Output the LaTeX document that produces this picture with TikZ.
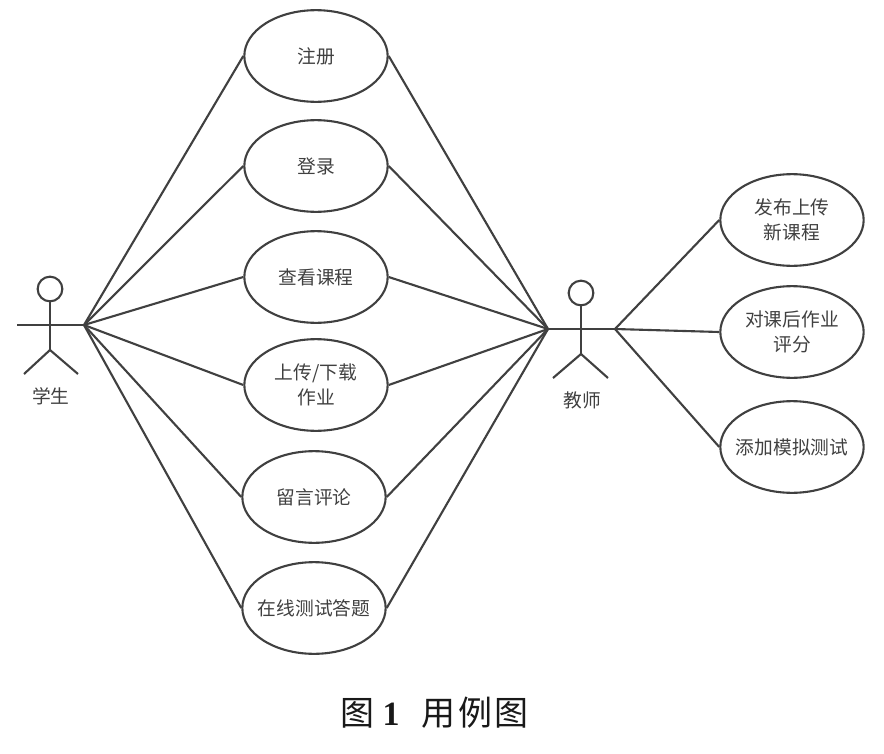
\documentclass[tikz,border=0pt]{standalone}
\usepackage{fontspec}
\setmainfont{Noto Sans CJK SC}
\newfontfamily\capdigit{Liberation Serif}
\usetikzlibrary{positioning, shapes.geometric}

\begin{document}
\begin{tikzpicture}[x=0.03cm, y=-0.03cm,
usecase/.style={draw=black!75, ellipse, line width=1.8pt, minimum width=4.3cm, minimum height=2.75cm, inner xsep=-14pt, inner ysep=0pt, align=center, font=\fontsize{16pt}{21pt}\selectfont, text=black!75},
link/.style={line width=1.8pt, black!75},
actorlabel/.style={font=\fontsize{16pt}{18pt}\selectfont, text=black!75}
]
\useasboundingbox (0,0) rectangle (884,754);

% use cases in the middle
\node[usecase] (reg) at (316,56) {注册};
\node[usecase] (login) at (316,166) {登录};
\node[usecase] (course) at (316,277) {查看课程};
\node[usecase] (work) at (316,385) {上传/下载\\作业};
\node[usecase] (comment) at (314,497) {留言评论};
\node[usecase] (test) at (314,608) {在线测试答题};

% teacher only
\node[usecase] (publish) at (792,220) {发布上传\\新课程};
\node[usecase] (grade) at (792,332) {对课后作业\\评分};
\node[usecase] (mock) at (792,447) {添加模拟测试};

% student
\node[draw, circle, link, minimum size=0.74cm, inner sep=0pt] (shead) at (50,289) {};
\coordinate (sleft) at (17,325);
\coordinate (sright) at (84,325);
\coordinate (ship) at (50,350);
\coordinate (sfootl) at (24,374);
\coordinate (sfootr) at (78,374);
\draw[link] (shead) -- (ship);
\draw[link] (sleft) -- (sright);
\draw[link] (sfootl) -- (ship) -- (sfootr);
\node[actorlabel] (student) at (51,396) {学生};

% teacher
\node[draw, circle, link, minimum size=0.74cm, inner sep=0pt] (thead) at (581,293) {};
\coordinate (tleft) at (548,329);
\coordinate (tright) at (615,329);
\coordinate (thip) at (581,354);
\coordinate (tfootl) at (553,378);
\coordinate (tfootr) at (608,378);
\draw[link] (thead) -- (thip);
\draw[link] (tleft) -- (tright);
\draw[link] (tfootl) -- (thip) -- (tfootr);
\node[actorlabel] (teacher) at (582,400) {教师};

\foreach \uc in {reg, login, course, work, comment, test} {
\draw[link] (sright) -- (\uc.west);
\draw[link] (tleft) -- (\uc.east);
}
\foreach \uc in {publish, grade, mock} {
\draw[link] (tright) -- (\uc.west);
}

\node[font=\fontsize{29pt}{34pt}\selectfont, text=black!90] (caption) at (434.5,713) {图\hspace{0.25em}{\capdigit\bfseries 1}\hspace{0.65em}用\hspace{0.08em}例\hspace{0.08em}图};

\end{tikzpicture}
\end{document}
